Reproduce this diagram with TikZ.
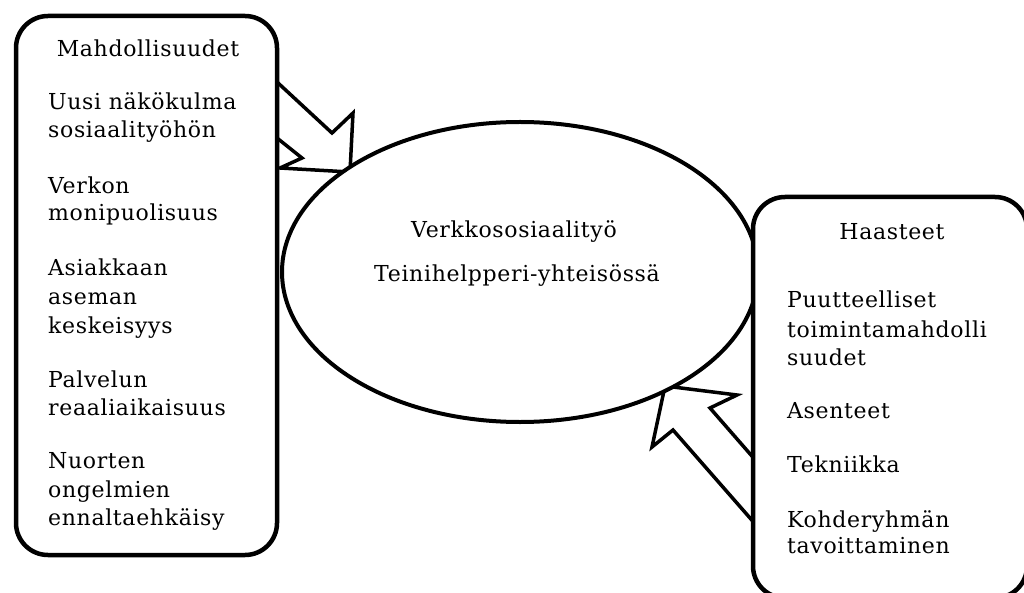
\documentclass[tikz,border=0pt]{standalone}
\usepackage{fontspec}
\setmainfont{DejaVu Serif}[LetterSpace=3]
\usetikzlibrary{shapes.geometric}
\tikzset{
  txt/.style={anchor=base west, inner sep=0pt, font=\fontsize{22}{28}\selectfont},
  ctxt/.style={anchor=base, inner sep=0pt, font=\fontsize{22}{28}\selectfont},
  boxst/.style={draw, line width=4.5pt, fill=white, rounded corners=32pt, rectangle, inner sep=0pt},
  arr/.style={draw, line width=3.5pt, fill=white, line join=miter},
  ell/.style={draw, ellipse, line width=4pt, fill=white, inner sep=0pt}
}
\begin{document}
\begin{tikzpicture}[x=1pt,y=-1pt]
\useasboundingbox (0,0) rectangle (1024,593);
% arrows (drawn first, partly covered)
\draw[arr] (250,57) -- (332,133) -- (353,113) -- (350,172) -- (280,168) -- (302,158) -- (252,118) -- cycle;
\draw[arr] (785,494) -- (710,408) -- (737,395) -- (665,386) -- (652,447) -- (673,430) -- (785,558) -- cycle;
% ellipse
\node[ell, minimum width=476pt, minimum height=300pt] (center) at (520,272) {};
% boxes
\node[boxst, minimum width=261pt, minimum height=539pt] (left) at (146.5,285.5) {};
\node[boxst, minimum width=274pt, minimum height=401pt] (right) at (890,397.5) {};
% ellipse text
\node[ctxt] (c1) at (514,238) {Verkkososiaalityö};
\node[ctxt] (c2) at (517,282) {Teinihelpperi-yhteisössä};
% left texts
\node[ctxt] (lt) at (148,57) {Mahdollisuudet};
\node[txt] (l1) at (48,110) {Uusi näkökulma};
\node[txt] (l2) at (48,138) {sosiaalityöhön};
\node[txt] (l3) at (48,194) {Verkon};
\node[txt] (l4) at (48,221) {monipuolisuus};
\node[txt] (l5) at (48,276) {Asiakkaan};
\node[txt] (l6) at (48,305) {aseman};
\node[txt] (l7) at (48,333) {keskeisyys};
\node[txt] (l8) at (48,387) {Palvelun};
\node[txt] (l9) at (48,415) {reaaliaikaisuus};
\node[txt] (l10) at (48,468) {Nuorten};
\node[txt] (l11) at (48,497) {ongelmien};
\node[txt] (l12) at (48,525) {ennaltaehkäisy};
% right texts
\node[ctxt] (rt) at (892,240) {Haasteet};
\node[txt] (r1) at (787,308) {Puutteelliset};
\node[txt] (r2) at (787,337) {toimintamahdolli};
\node[txt] (r3) at (787,365) {suudet};
\node[txt] (r4) at (787,418) {Asenteet};
\node[txt] (r5) at (787,472) {Tekniikka};
\node[txt] (r6) at (787,527) {Kohderyhmän};
\node[txt] (r7) at (787,553) {tavoittaminen};
\end{tikzpicture}
\end{document}
